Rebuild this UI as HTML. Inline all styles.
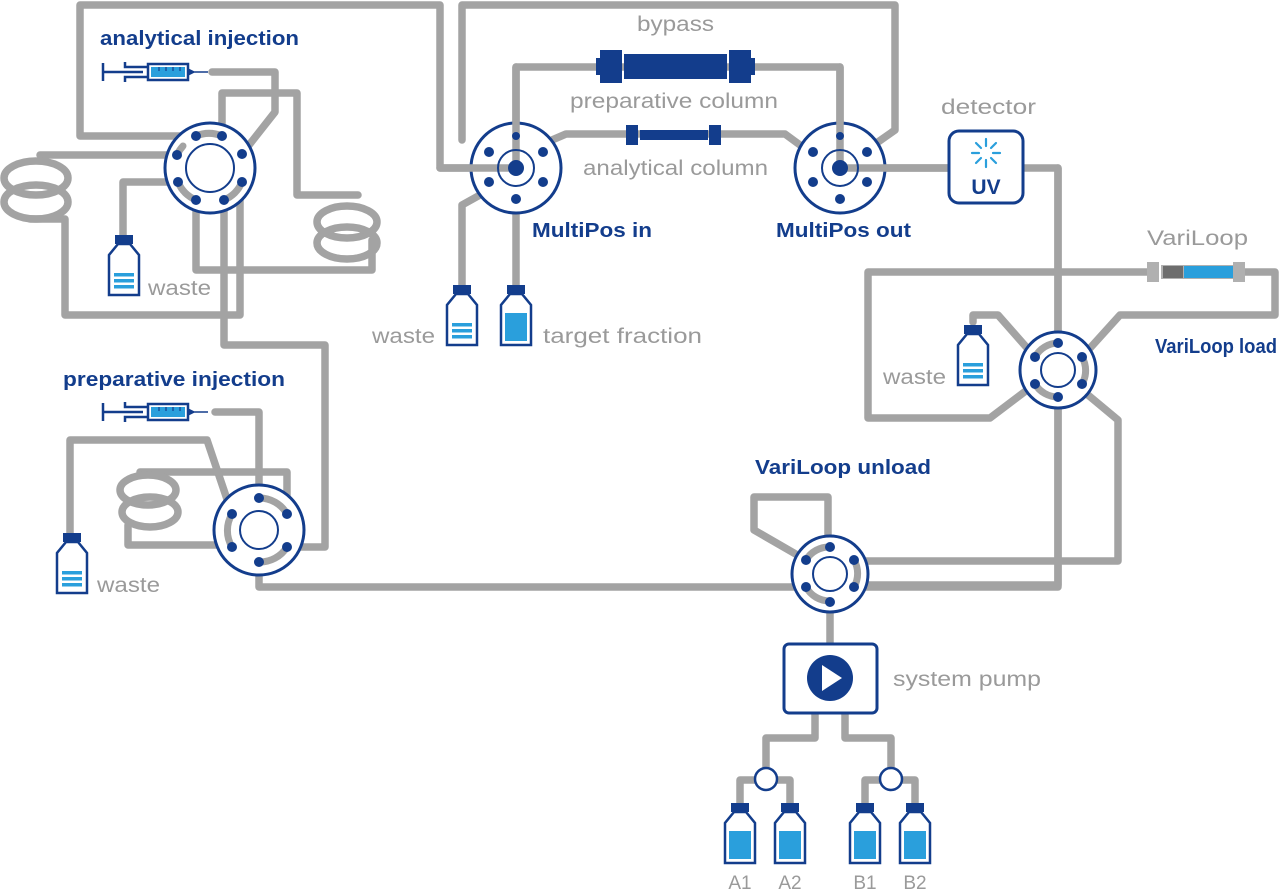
<!DOCTYPE html>
<html><head><meta charset="utf-8"><style>
html,body{margin:0;padding:0;background:#fff;}
svg{display:block;}
text{font-family:"Liberation Sans",sans-serif;}
.p{fill:none;stroke:#a3a3a3;stroke-width:7.5;stroke-linejoin:round;stroke-linecap:round;}
.n{fill:#133d8c;}
.r{fill:#fff;stroke:#133d8c;stroke-width:3;}
.lb{font-weight:bold;fill:#133d8c;font-size:20px;}
.lg{fill:#9a9a9a;font-size:21px;}
</style></head><body>
<svg width="1280" height="894" viewBox="0 0 1280 894" xmlns="http://www.w3.org/2000/svg">
<defs>
<g id="bl">
<rect x="-9" y="0" width="18" height="9" fill="#133d8c"/>
<path d="M-6,9 L6,9 L15,20 L15,60 L-15,60 L-15,20 Z" fill="#fff" stroke="#133d8c" stroke-width="2.5"/>
<rect x="-10" y="38" width="20" height="3.5" fill="#2a9fdc"/>
<rect x="-10" y="44" width="20" height="3.5" fill="#2a9fdc"/>
<rect x="-10" y="50" width="20" height="3.5" fill="#2a9fdc"/>
</g>
<g id="bf">
<rect x="-9" y="0" width="18" height="9" fill="#133d8c"/>
<path d="M-6,9 L6,9 L15,20 L15,60 L-15,60 L-15,20 Z" fill="#fff" stroke="#133d8c" stroke-width="2.5"/>
<rect x="-11" y="28" width="22" height="28" fill="#2a9fdc"/>
</g>
<g id="sy">
<path d="M0,-9 V9 M0,0 H40 M22,-10 V-5 H45 M22,10 V5 H45" fill="none" stroke="#133d8c" stroke-width="2.5"/>
<rect x="45" y="-8" width="40" height="16" fill="#fff" stroke="#133d8c" stroke-width="2.5"/>
<rect x="48" y="-5" width="34" height="10" fill="#2a9fdc"/>
<path d="M56,-5 V-1 M63,-5 V-1 M70,-5 V-1 M77,-5 V-1" stroke="#133d8c" stroke-width="1.2"/>
<path d="M85,-3 L91,0 L85,3 Z M90,0 H105" fill="#133d8c" stroke="#133d8c" stroke-width="1.5"/>
</g>
</defs>

<!-- ===== analytical injection pipes ===== -->
<path class="p" d="M196,136 H80 V5 H440 V168 H516"/>
<path class="p" d="M212,72 H275 V112 L242,154"/>
<path class="p" d="M222,136 V93 H297 V195 H358"/>
<ellipse class="p" cx="347" cy="222" rx="30" ry="16"/>
<ellipse class="p" cx="347" cy="243" rx="30" ry="16"/>
<path class="p" d="M196,200 V270 H372 V240"/>
<path class="p" d="M177,155 H40"/>
<ellipse class="p" cx="36" cy="178" rx="32" ry="17"/>
<ellipse class="p" cx="36" cy="202" rx="32" ry="17"/>
<path class="p" d="M30,219 H65 V315 H240 V196 L242,182"/>
<path class="p" d="M224,200 V345 H325 V547 H287"/>
<path class="p" d="M178,182 H123 V235"/>

<!-- analytical valve -->
<circle class="r" cx="210" cy="168" r="45"/>
<path d="M196,136 A34,34 0 0 1 222,136" class="p" style="stroke-width:7"/>
<path d="M178,182 A34,34 0 0 0 196,200" class="p" style="stroke-width:7"/>
<path d="M242,182 A34,34 0 0 1 224,200" class="p" style="stroke-width:7"/>
<path d="M177,155 A34,34 0 0 1 183,146" class="p" style="stroke-width:7"/>
<circle cx="210" cy="168" r="24" fill="#fff" stroke="#133d8c" stroke-width="2"/>
<g class="n"><circle cx="196" cy="136" r="5"/><circle cx="222" cy="136" r="5"/><circle cx="177" cy="155" r="5"/><circle cx="242" cy="154" r="5"/><circle cx="178" cy="182" r="5"/><circle cx="242" cy="182" r="5"/><circle cx="196" cy="200" r="5"/><circle cx="224" cy="200" r="5"/></g>
<use href="#sy" x="103" y="72"/>
<use href="#bl" x="124" y="235"/>
<text class="lb" x="100" y="45" textLength="199" lengthAdjust="spacingAndGlyphs">analytical injection</text>
<text class="lg" x="148" y="295" textLength="63" lengthAdjust="spacingAndGlyphs">waste</text>

<!-- ===== MultiPos ===== -->
<path class="p" d="M516,168 V67 H840 V168"/>
<path class="p" d="M462,140 L462,128 V5 H895 V130 L878,142"/>
<path class="p" d="M552,140 L566,134 H785 L800,145"/>
<path class="p" d="M480,195 L462,205 V288"/>
<path class="p" d="M516,199 V288"/>
<path class="p" d="M840,168 H1058 V585 H860"/>
<rect x="600" y="50" width="22" height="33" class="n"/><rect x="596" y="58" width="6" height="17" class="n"/>
<rect x="624" y="54" width="103" height="25" class="n"/>
<rect x="729" y="50" width="22" height="33" class="n"/><rect x="749" y="58" width="6" height="17" class="n"/>
<rect x="626" y="125" width="12" height="20" class="n"/><rect x="640" y="130" width="68" height="10" class="n"/><rect x="709" y="125" width="12" height="20" class="n"/>

<circle class="r" cx="516" cy="168" r="45"/>
<path class="p" d="M516,168 V67"/>
<path class="p" d="M440,168 H516"/>
<circle cx="516" cy="168" r="18" fill="none" stroke="#133d8c" stroke-width="2"/>
<g class="n"><circle cx="516" cy="168" r="8"/><circle cx="516" cy="136" r="4"/><circle cx="489" cy="152" r="5"/><circle cx="543" cy="152" r="5"/><circle cx="489" cy="182" r="5"/><circle cx="543" cy="182" r="5"/><circle cx="516" cy="199" r="5"/></g>

<circle class="r" cx="840" cy="168" r="45"/>
<path class="p" d="M840,168 V67"/><path class="p" d="M840,168 H950"/>
<circle cx="840" cy="168" r="18" fill="none" stroke="#133d8c" stroke-width="2"/>
<g class="n"><circle cx="840" cy="168" r="8"/><circle cx="840" cy="136" r="4"/><circle cx="813" cy="152" r="5"/><circle cx="867" cy="152" r="5"/><circle cx="813" cy="182" r="5"/><circle cx="867" cy="182" r="5"/><circle cx="840" cy="199" r="5"/></g>

<use href="#bl" x="462" y="285"/>
<use href="#bf" x="516" y="285"/>
<text class="lg" x="637" y="31" textLength="77" lengthAdjust="spacingAndGlyphs">bypass</text>
<text class="lg" x="570" y="108" textLength="208" lengthAdjust="spacingAndGlyphs">preparative column</text>
<text class="lg" x="583" y="175" textLength="185" lengthAdjust="spacingAndGlyphs">analytical column</text>
<text class="lb" x="532" y="237" textLength="120" lengthAdjust="spacingAndGlyphs">MultiPos in</text>
<text class="lb" x="776" y="237" textLength="135" lengthAdjust="spacingAndGlyphs">MultiPos out</text>
<text class="lg" x="372" y="343" textLength="63" lengthAdjust="spacingAndGlyphs">waste</text>
<text class="lg" x="543" y="343" textLength="159" lengthAdjust="spacingAndGlyphs">target fraction</text>

<!-- detector -->
<rect x="949" y="131" width="74" height="72" rx="10" fill="#fff" stroke="#133d8c" stroke-width="3"/>
<g stroke="#2a9fdc" stroke-width="2.2" stroke-linecap="round">
<path d="M986,139 V146 M986,160 V167 M972,153 H979 M993,153 H1000 M976,143 L981,148 M991,158 L996,163 M996,143 L991,148 M981,158 L976,163"/></g>
<text x="986" y="194" text-anchor="middle" style="font-weight:bold;fill:#133d8c;font-size:21px">UV</text>
<text class="lg" x="941" y="114" textLength="95" lengthAdjust="spacingAndGlyphs">detector</text>

<!-- ===== VariLoop load ===== -->
<path class="p" d="M1058,168 V343"/>
<path class="p" d="M1058,397 V587 H860"/>
<path class="p" d="M1082,390 L1118,420 V561 H860"/>
<path class="p" d="M1150,272 H868 V418 H990 L1035,384"/>
<path class="p" d="M1240,272 H1275 V315 H1120 L1082,357"/>
<path class="p" d="M973,322 V315 H998 L1035,357"/>
<rect x="1147" y="262" width="12" height="20" fill="#b0b0b0"/>
<rect x="1161" y="265" width="80" height="14" fill="#b0b0b0"/>
<rect x="1163" y="266" width="20" height="12" fill="#6d6d6d"/>
<rect x="1184" y="266" width="55" height="12" fill="#2a9fdc"/>
<rect x="1233" y="262" width="12" height="20" fill="#b0b0b0"/>
<circle class="r" cx="1058" cy="370" r="38"/>
<path class="p" style="stroke-width:7" d="M1035,357 A27,27 0 0 1 1058,343"/>
<path class="p" style="stroke-width:7" d="M1035,384 A27,27 0 0 0 1058,397"/>
<path class="p" style="stroke-width:7" d="M1082,357 A27,27 0 0 1 1082,384"/>
<circle cx="1058" cy="370" r="17" fill="#fff" stroke="#133d8c" stroke-width="2"/>
<g class="n"><circle cx="1058" cy="343" r="5"/><circle cx="1035" cy="357" r="5"/><circle cx="1082" cy="357" r="5"/><circle cx="1035" cy="384" r="5"/><circle cx="1082" cy="384" r="5"/><circle cx="1058" cy="397" r="5"/></g>
<use href="#bl" x="973" y="325"/>
<text class="lg" x="1147" y="245" textLength="101" lengthAdjust="spacingAndGlyphs">VariLoop</text>
<text class="lb" x="1155" y="353" textLength="122" lengthAdjust="spacingAndGlyphs">VariLoop load</text>
<text class="lg" x="883" y="384" textLength="63" lengthAdjust="spacingAndGlyphs">waste</text>

<!-- ===== VariLoop unload ===== -->
<path class="p" d="M806,560 L754,530 V497 H828 V547"/>
<path class="p" d="M260,587 H806"/>
<path class="p" d="M830,602 V645"/>
<circle class="r" cx="830" cy="574" r="38"/>
<path class="p" style="stroke-width:7" d="M806,560 A27,27 0 0 1 830,547"/>
<path class="p" style="stroke-width:7" d="M806,587 A27,27 0 0 0 830,601"/>
<path class="p" style="stroke-width:7" d="M854,560 A27,27 0 0 1 854,587"/>
<circle cx="830" cy="574" r="17" fill="#fff" stroke="#133d8c" stroke-width="2"/>
<g class="n"><circle cx="830" cy="547" r="5"/><circle cx="806" cy="560" r="5"/><circle cx="854" cy="560" r="5"/><circle cx="806" cy="587" r="5"/><circle cx="854" cy="587" r="5"/><circle cx="830" cy="602" r="5"/></g>
<text class="lb" x="755" y="474" textLength="176" lengthAdjust="spacingAndGlyphs">VariLoop unload</text>

<!-- pump -->
<path class="p" d="M815,713 V738 H766 V768"/>
<path class="p" d="M845,713 V738 H891 V768"/>
<path class="p" d="M766,780 H740 V808 M766,780 H790 V808"/>
<path class="p" d="M891,780 H865 V808 M891,780 H915 V808"/>
<rect x="784" y="644" width="93" height="69" rx="5" fill="#fff" stroke="#133d8c" stroke-width="3"/>
<circle cx="830" cy="678" r="23" class="n"/>
<path d="M822,665 L842,678 L822,691 Z" fill="#fff"/>
<circle cx="766" cy="779" r="11" fill="#fff" stroke="#133d8c" stroke-width="2.5"/>
<circle cx="891" cy="779" r="11" fill="#fff" stroke="#133d8c" stroke-width="2.5"/>
<use href="#bf" x="740" y="803"/><use href="#bf" x="790" y="803"/><use href="#bf" x="865" y="803"/><use href="#bf" x="915" y="803"/>
<g class="lg" style="font-size:19px" text-anchor="middle"><text x="740" y="889">A1</text><text x="790" y="889">A2</text><text x="865" y="889">B1</text><text x="915" y="889">B2</text></g>
<text class="lg" x="893" y="686" textLength="148" lengthAdjust="spacingAndGlyphs">system pump</text>

<!-- ===== preparative injection ===== -->
<path class="p" d="M215,412 H259 V498"/>
<path class="p" d="M287,514 V472 H140"/>
<ellipse class="p" cx="148" cy="490" rx="28" ry="15"/>
<ellipse class="p" cx="150" cy="512" rx="28" ry="15"/>
<path class="p" d="M128,525 V545 H232"/>
<path class="p" d="M232,514 L207,440 H70 V535"/>
<path class="p" d="M259,562 V587"/>
<circle class="r" cx="259" cy="530" r="45"/>
<path class="p" style="stroke-width:7" d="M259,498 A32,32 0 0 1 287,514"/>
<path class="p" style="stroke-width:7" d="M232,514 A32,32 0 0 0 232,547"/>
<path class="p" style="stroke-width:7" d="M287,547 A32,32 0 0 1 259,562"/>
<circle cx="259" cy="530" r="19" fill="#fff" stroke="#133d8c" stroke-width="2"/>
<g class="n"><circle cx="259" cy="498" r="5"/><circle cx="287" cy="514" r="5"/><circle cx="232" cy="514" r="5"/><circle cx="232" cy="547" r="5"/><circle cx="287" cy="547" r="5"/><circle cx="259" cy="562" r="5"/></g>
<use href="#sy" x="103" y="412"/>
<use href="#bl" x="72" y="533"/>
<text class="lb" x="63" y="386" textLength="222" lengthAdjust="spacingAndGlyphs">preparative injection</text>
<text class="lg" x="97" y="592" textLength="63" lengthAdjust="spacingAndGlyphs">waste</text>
</svg>
</body></html>
